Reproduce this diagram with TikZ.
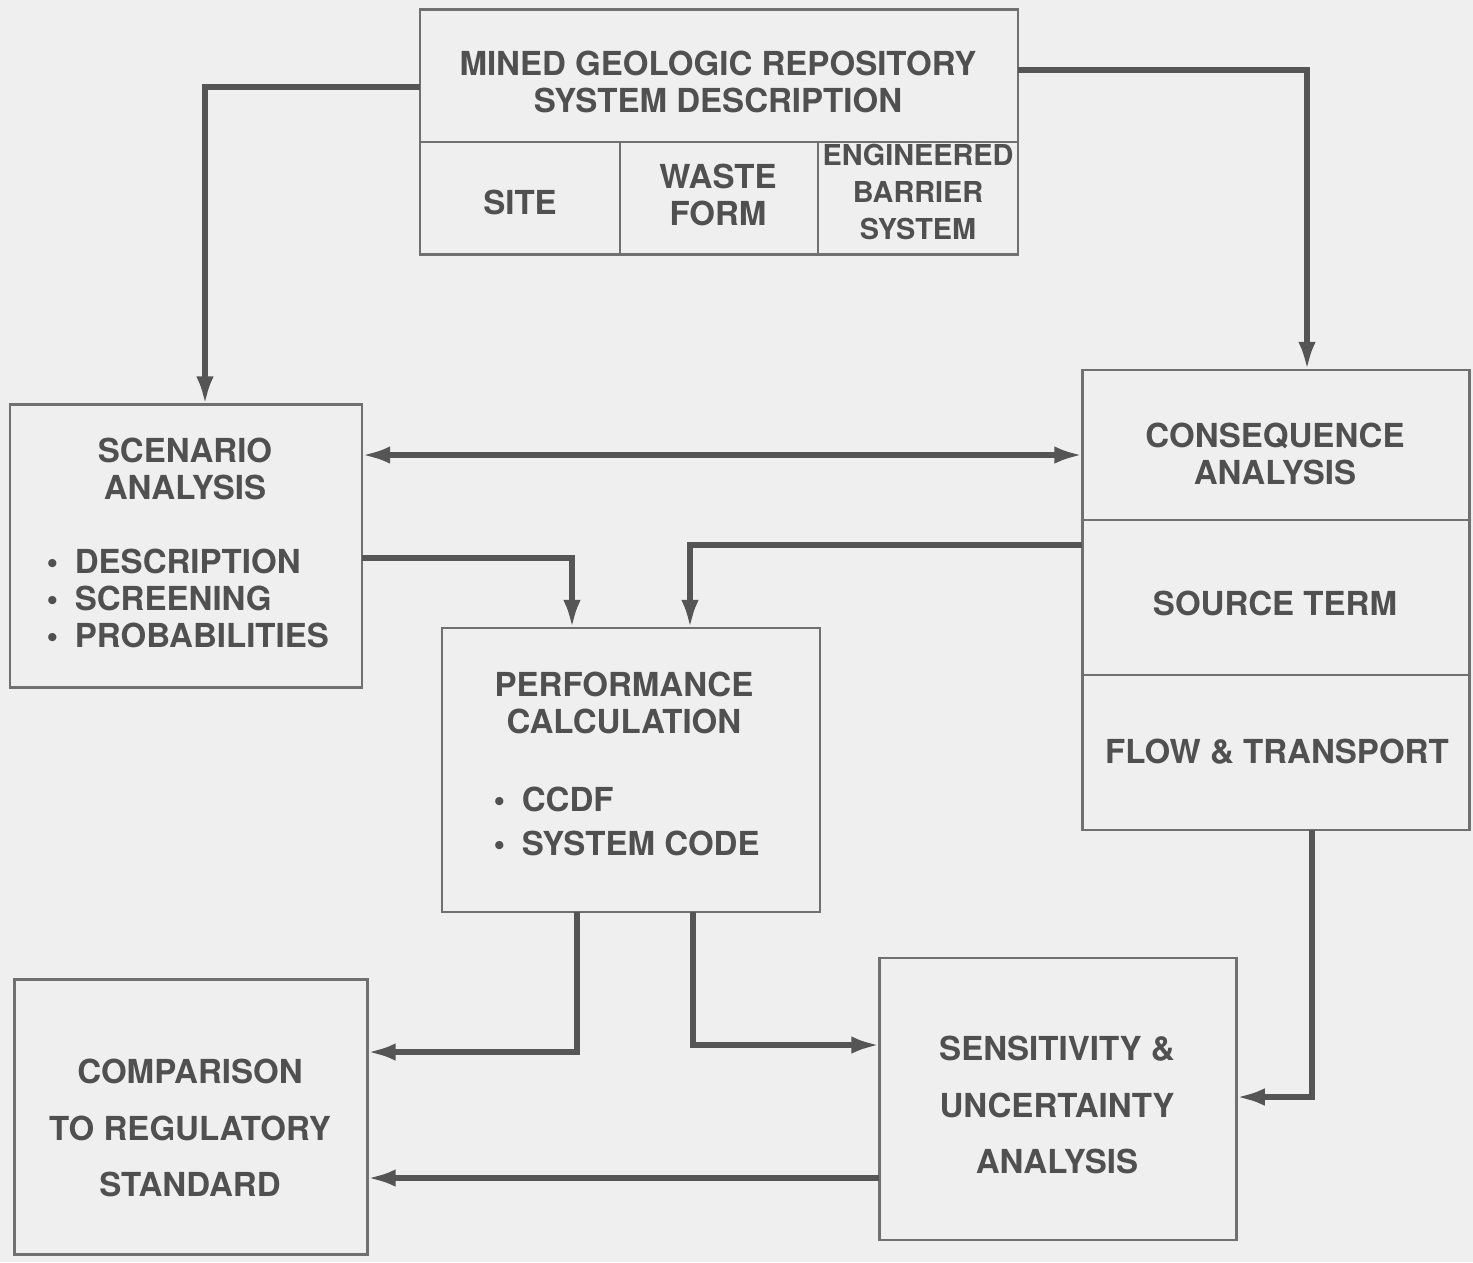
\documentclass[tikz,border=0pt]{standalone}
\usepackage{fontspec}
\setmainfont{TeX Gyre Heros}
\usetikzlibrary{arrows.meta}
\definecolor{bg}{HTML}{EFEFEF}
\definecolor{boxline}{HTML}{707070}
\definecolor{arrline}{HTML}{555555}
\definecolor{txt}{HTML}{505050}
\begin{document}
\begin{tikzpicture}[x=0.01cm,y=-0.01cm,
  box/.style={draw=boxline,line width=0.7pt,inner sep=0pt,outer sep=0pt,rectangle},
  divline/.style={draw=boxline,line width=0.7pt},
  arr/.style={draw=arrline,line width=1.5pt,-{Latex[length=8pt,width=5pt]}},
  lbl/.style={text=txt,font=\fontsize{9.4}{10.6}\selectfont\bfseries,align=center,inner sep=0pt},
  lbls/.style={lbl,font=\fontsize{8.2}{10.4}\selectfont\bfseries},
  lblwide/.style={lbl,font=\fontsize{9.4}{16}\selectfont\bfseries},
  blist/.style={lbl,align=left,anchor=north west}
]
\fill[bg] (0,0) rectangle (1473,1262);
\useasboundingbox (0,0) rectangle (1473,1262);

% boxes
\node[box,minimum width=5.98cm,minimum height=2.45cm] (top) at (719,132) {};
\node[box,minimum width=3.52cm,minimum height=2.83cm] (scen) at (186,546) {};
\node[box,minimum width=3.87cm,minimum height=4.60cm] (cons) at (1276,600) {};
\node[box,minimum width=3.78cm,minimum height=2.84cm] (perf) at (631,770) {};
\node[box,minimum width=3.53cm,minimum height=2.75cm] (comp) at (191,1117) {};
\node[box,minimum width=3.57cm,minimum height=2.82cm] (sens) at (1058,1099) {};

% dividers
\draw[divline] (top.west |- 0,142) -- (top.east |- 0,142);
\draw[divline] (620,142) -- (top.south -| 620,0);
\draw[divline] (818,142) -- (top.south -| 818,0);
\draw[divline] (cons.west |- 0,520) -- (cons.east |- 0,520);
\draw[divline] (cons.west |- 0,675) -- (cons.east |- 0,675);

% labels
\node[lbl] (ttitle) at (718,82) {MINED GEOLOGIC REPOSITORY\\SYSTEM DESCRIPTION};
\node[lbl] (tsite) at (520,202) {SITE};
\node[lbl] (twaste) at (718,195) {WASTE\\FORM};
\node[lbls] (tebs) at (918,192) {ENGINEERED\\BARRIER\\SYSTEM};

\node[lbl] (stitle) at (185,469) {SCENARIO\\ANALYSIS};
\node[blist] (slist) at (46,548) {\textbullet\enspace DESCRIPTION\\\textbullet\enspace SCREENING\\\textbullet\enspace PROBABILITIES};

\node[lbl] (ctitle) at (1275,454) {CONSEQUENCE\\ANALYSIS};
\node[lbl] (csrc) at (1275,603) {SOURCE TERM};
\node[lbl] (cflow) at (1277,752) {FLOW \& TRANSPORT};

\node[lbl] (ptitle) at (624,703) {PERFORMANCE\\CALCULATION};
\node[blist] (plist) at (493,786) {\textbullet\enspace CCDF\\[2pt]\textbullet\enspace SYSTEM CODE};

\node[lblwide] (ctext) at (190,1128) {COMPARISON\\TO REGULATORY\\STANDARD};
\node[lblwide] (stext) at (1057,1105) {SENSITIVITY \&\\UNCERTAINTY\\ANALYSIS};

% connectors
\draw[arr] (top.west |- 0,87) -| (scen.north -| 205,0);
\draw[arr] (top.east |- 0,70) -| (cons.north -| 1307,0);
\draw[arr,{Latex[length=8pt,width=5pt]}-{Latex[length=8pt,width=5pt]}] (scen.east |- 0,455) -- (cons.west |- 0,455);
\draw[arr] (scen.east |- 0,558) -| (perf.north -| 572,0);
\draw[arr] (cons.west |- 0,545) -| (perf.north -| 690,0);
\draw[arr] (perf.south -| 577,0) |- (comp.east |- 0,1052);
\draw[arr] (perf.south -| 693,0) |- (sens.west |- 0,1045);
\draw[arr] (cons.south -| 1312,0) |- (sens.east |- 0,1097);
\draw[arr] (sens.west |- 0,1178) -- (comp.east |- 0,1178);
\end{tikzpicture}
\end{document}
